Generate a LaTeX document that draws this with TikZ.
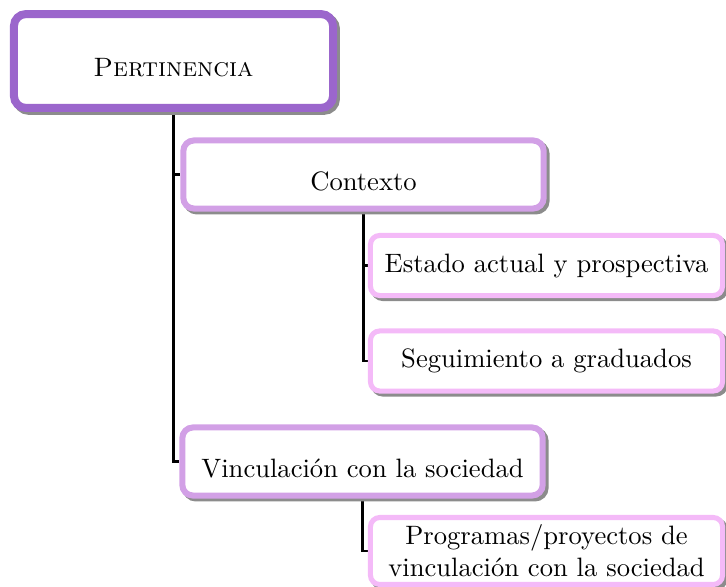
\documentclass[tikz,border=0pt]{standalone}
\usepackage{fontspec}
\usetikzlibrary{shadows,backgrounds}
\definecolor{rootc}{RGB}{155,102,204}
\definecolor{midc}{RGB}{210,160,230}
\definecolor{leafc}{RGB}{244,186,248}
\begin{document}
\begin{tikzpicture}[x=0.376pt,y=-0.376pt,
  box/.style={rectangle, fill=white, align=center, inner sep=2pt,
    copy shadow={shadow xshift=1.1pt, shadow yshift=-1.1pt, draw=black!45, fill=black!45}},
  rootbox/.style={box, draw=rootc, line width=3pt, rounded corners=4.5pt,
    minimum width=120pt, minimum height=35.3pt, text height=12pt, text depth=0pt},
  midbox/.style={box, draw=midc, line width=2.26pt, rounded corners=4pt,
    minimum width=135.5pt, minimum height=25.6pt, text height=12pt, text depth=0pt},
  leafbox/.style={box, draw=leafc, line width=1.9pt, rounded corners=3.5pt,
    minimum width=132.4pt, minimum height=22.6pt},
  conn/.style={line width=0.9pt, black}]
\useasboundingbox (0,0) rectangle (726,587);
\node[rootbox] (root) at (173.5,61) {\textsc{Pertinencia}};
\node[midbox] (ctx) at (363.5,174.5) {Contexto};
\node[midbox] (vin) at (362.5,461.5) {Vinculación con la sociedad};
\node[leafbox] (est) at (546.5,265.5) {Estado actual y prospectiva};
\node[leafbox] (seg) at (546.5,361) {Seguimiento a graduados};
\node[leafbox, minimum height=25.2pt] (pro) at (546.5,551) {Programas/proyectos de\\vinculación con la sociedad};
\begin{scope}[on background layer]
\draw[conn] (root.south) |- (vin.west);
\draw[conn] (root.south |- ctx.west) -- (ctx.west);
\draw[conn] (ctx.south) |- (seg.west);
\draw[conn] (ctx.south |- est.west) -- (est.west);
\draw[conn] (vin.south) |- (pro.west);
\end{scope}
\end{tikzpicture}
\end{document}
